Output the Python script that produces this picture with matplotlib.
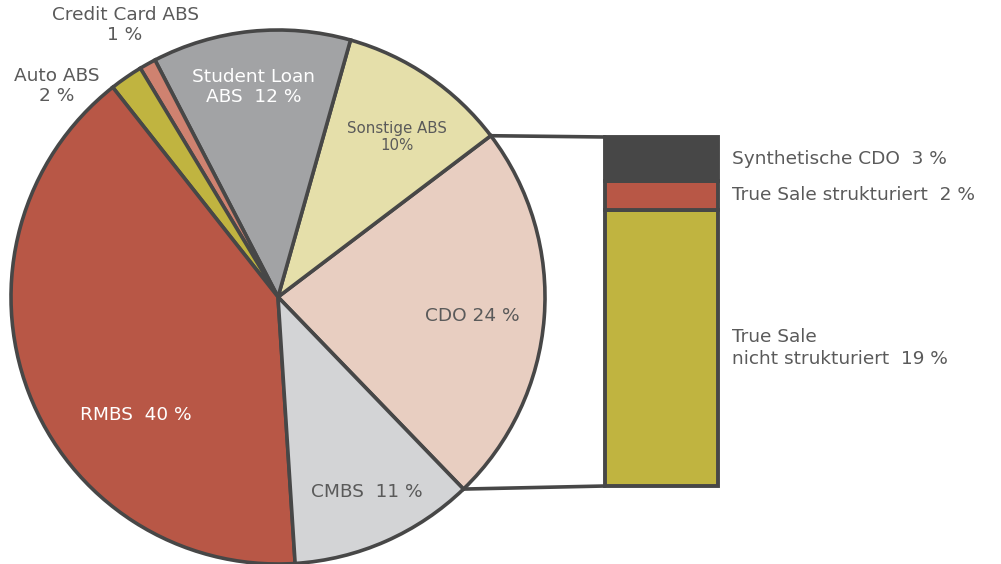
import matplotlib
matplotlib.use("Agg")
import matplotlib.pyplot as plt
from matplotlib.patches import ConnectionPatch
import numpy as np

plt.rcParams['font.family'] = ['DejaVu Sans']

# Pie data (percent), in drawing order (counter-clockwise)
pie_labels = ["CDO 24 %", "Sonstige ABS\n10%", "Student Loan\nABS  12 %", "Credit Card ABS\n1 %",
              "Auto ABS\n2 %", "RMBS  40 %", "CMBS  11 %"]
pie_values = [23.1, 10.3, 12.0, 1.0, 2.0, 40.4, 11.2]
pie_colors = ["#E8CEC1", "#E5DFAA", "#A2A3A5", "#CF8270", "#C0B440", "#B85746", "#D3D4D6"]

# Breakdown of CDO (bottom to top)
bar_labels = ["True Sale\nnicht strukturiert  19 %", "True Sale strukturiert  2 %", "Synthetische CDO  3 %"]
bar_values = [19, 2, 3]
bar_colors = ["#C0B440", "#B85746", "#474747"]

W, H = 1001, 564
fig = plt.figure(figsize=(W / 100, H / 100), dpi=100)
ax = fig.add_axes([0, 0, 1, 1])

edge = "#474747"
txt = "#5A5A5A"
cx, cy, r = 278, H - 297, 267
wedges, _ = ax.pie(pie_values, startangle=-46.0, counterclock=True, center=(cx, cy), radius=r,
                   colors=pie_colors, frame=True,
                   wedgeprops=dict(edgecolor=edge, linewidth=2.6))
ax.set_xlim(0, W)
ax.set_ylim(0, H)
ax.set_aspect('equal')
ax.axis('off')

# pie labels
big = 13.3
label_pos = [(472, 316, txt, big), (397, 137, txt, 10.8), (254, 87, "white", big),
             (125, 25, txt, big), (57, 86, txt, big), (136, 415, "white", big),
             (367, 492, txt, big)]
for lab, (x, y, c, fs) in zip(pie_labels, label_pos):
    ax.text(x, H - y, lab, ha='center', va='center', color=c, fontsize=fs, linespacing=1.2)

# stacked bar
bax = fig.add_axes([605 / W, 1 - 486 / H, 113 / W, 349 / H])
bottom = 0
for v, c in zip(bar_values, bar_colors):
    bars = bax.bar(0, v, width=1, bottom=bottom, color=c, edgecolor=edge, linewidth=2.8)
    for b in bars:
        b.set_clip_on(False)
    bottom += v
bax.set_xlim(-0.5, 0.5)
bax.set_ylim(0, sum(bar_values))
bax.axis('off')

bottom = 0
for v, lab in zip(bar_values, bar_labels):
    bax.text(1.12, bottom + v / 2, lab, transform=bax.get_yaxis_transform(),
             ha='left', va='center', color=txt, fontsize=big, linespacing=1.3)
    bottom += v

# connection lines
w0 = wedges[0]
for ang, yb in [(w0.theta2, sum(bar_values)), (w0.theta1, 0)]:
    px = cx + r * np.cos(np.radians(ang))
    py = cy + r * np.sin(np.radians(ang))
    con = ConnectionPatch(xyA=(px, py), coordsA=ax.transData, xyB=(-0.5, yb), coordsB=bax.transData,
                          color=edge, linewidth=2.6)
    fig.add_artist(con)

fig.savefig("out.png", dpi=100)
